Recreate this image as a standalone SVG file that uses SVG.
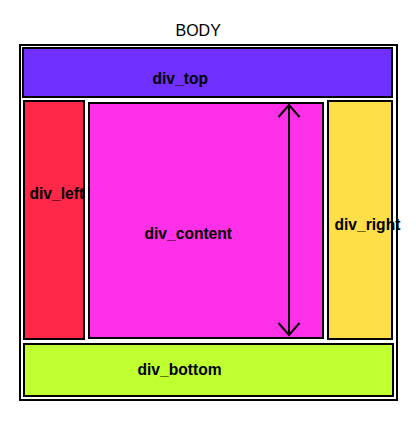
<svg xmlns="http://www.w3.org/2000/svg" width="416" height="433" viewBox="0 0 416 433">
<style>
  .box { stroke: #000; stroke-width: 2; }
  .lbl { font-family: "Liberation Sans", Arial, sans-serif; font-size: 15.6px; font-weight: bold; fill: #000; }
  .title { font-family: "Liberation Sans", Arial, sans-serif; font-size: 16px; fill: #000; }
  .conn { stroke: #000; stroke-width: 2; fill: none; }
</style>
<defs>
  <marker id="vhead" markerUnits="userSpaceOnUse" viewBox="-14 -14 28 28" refX="0" refY="0" markerWidth="28" markerHeight="28" orient="auto-start-reverse" overflow="visible">
    <path d="M-12,-10.5 L0,0 L-12,10.5" fill="none" stroke="#000" stroke-width="2"/>
  </marker>
</defs>
<rect width="416" height="433" fill="#fff"/>
<g id="body">
  <text class="title" x="175.5" y="36">BODY</text>
  <rect class="box" x="20" y="45" width="377" height="355" fill="#fff"/>
</g>
<g id="div_top">
  <rect class="box" x="23" y="48" width="369" height="49" fill="#7030ff"/>
  <text class="lbl" x="152.5" y="84">div_top</text>
</g>
<g id="div_left">
  <rect class="box" x="24" y="101" width="60" height="238" fill="#ff2848"/>
  <text class="lbl" x="29.5" y="199">div_left</text>
</g>
<g id="div_content">
  <rect class="box" x="89" y="103" width="234" height="235" fill="#ff30e8"/>
  <text class="lbl" x="144.5" y="239">div_content</text>
</g>
<g id="div_right">
  <rect class="box" x="328" y="101" width="64" height="238" fill="#ffdf48"/>
  <text class="lbl" x="334.5" y="230">div_right</text>
</g>
<g id="div_bottom">
  <rect class="box" x="24" y="344" width="369" height="52" fill="#c0ff30"/>
  <text class="lbl" x="137.5" y="375">div_bottom</text>
</g>
<g id="connectors">
  <line class="conn" x1="289" y1="105" x2="289" y2="335" marker-start="url(#vhead)" marker-end="url(#vhead)"/>
</g>
</svg>
